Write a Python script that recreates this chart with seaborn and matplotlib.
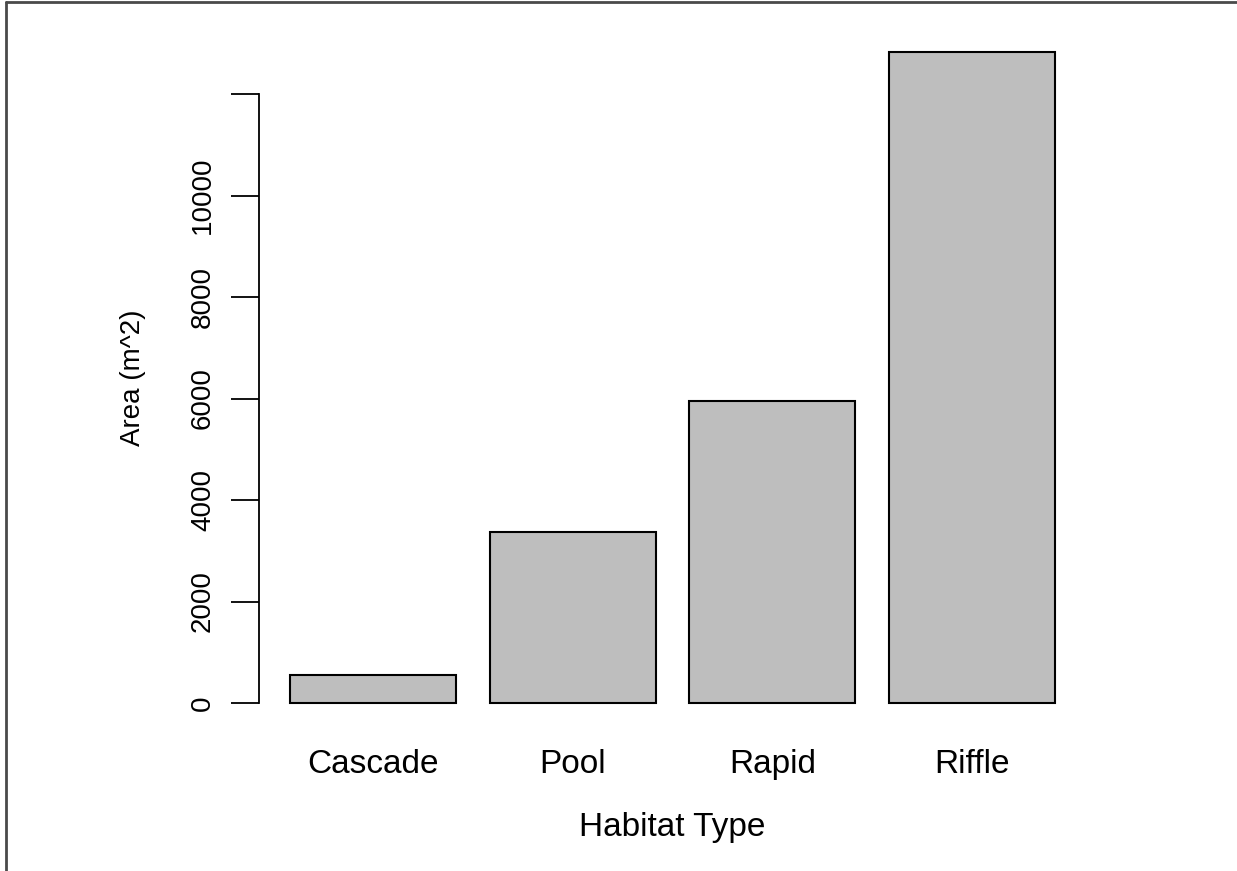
import matplotlib
matplotlib.use("Agg")
import matplotlib.pyplot as plt
from matplotlib.lines import Line2D
import pandas as pd
import seaborn as sns

# data
habitats = ["Cascade", "Pool", "Rapid", "Riffle"]
areas = [552, 3370, 5960, 12830]
y_ticks = [0, 2000, 4000, 6000, 8000, 10000, 12000]
y_tick_labels = ["0", "2000", "4000", "6000", "8000", "10000", ""]

W, H, DPI = 1237, 871, 100

sns.set_theme(style="white")
plt.rcParams["font.family"] = ["Liberation Sans", "DejaVu Sans"]
plt.rcParams["text.color"] = "black"
plt.rcParams["xtick.color"] = "black"
plt.rcParams["ytick.color"] = "black"
plt.rcParams["axes.labelcolor"] = "black"

df = pd.DataFrame({"habitat": habitats, "area": areas})

fig = plt.figure(figsize=(W / DPI, H / DPI), dpi=DPI)
# plot region in pixels: x 259..1086, y 26..729
ax = fig.add_axes([259 / W, (H - 729) / H, (1086 - 259) / W, (729 - 26) / H])

sns.barplot(data=df, x="habitat", y="area", color="#BEBEBE", saturation=1,
            edgecolor="black", linewidth=1.5, width=1 / 1.2, ax=ax)

ax.set_xlim(-0.5717, 3.5717)
ax.set_ylim(-513, 13343)

for side in ["top", "right", "bottom"]:
    ax.spines[side].set_visible(False)
ax.spines["left"].set_bounds(0, 12000)
ax.spines["left"].set_linewidth(1.3)
ax.spines["left"].set_color("black")

ax.set_yticks(y_ticks)
ax.set_yticklabels(y_tick_labels, rotation=90, va="center", fontsize=20)
ax.tick_params(axis="y", direction="out", length=20, width=1.3, color="black",
               pad=11, left=True)
ax.tick_params(axis="x", length=0, pad=14.5, labelsize=24)
ax.grid(False)

ax.set_xlabel("Habitat Type", fontsize=24, labelpad=23)
ax.set_ylabel("Area (m^2)", fontsize=20, labelpad=32)

# outer frame lines (top and left) seen in the reference
fig.add_artist(Line2D([6 / W, 6 / W], [0, 1 - 2 / H], transform=fig.transFigure,
                      color="#4a4a4a", linewidth=2))
fig.add_artist(Line2D([6 / W, 1], [1 - 2 / H, 1 - 2 / H], transform=fig.transFigure,
                      color="#4a4a4a", linewidth=2))

fig.savefig("out.png", dpi=DPI)
